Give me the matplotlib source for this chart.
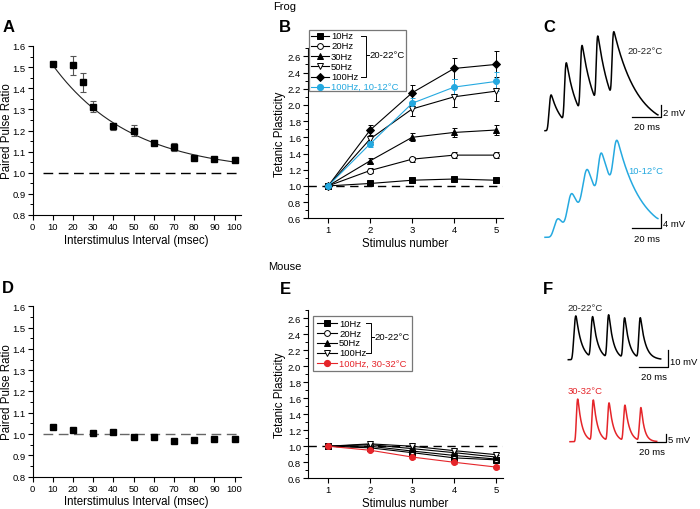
import numpy as np
import matplotlib
matplotlib.use("Agg")
from matplotlib import pyplot as plt
from matplotlib.lines import Line2D
from matplotlib.patches import Rectangle
from matplotlib.ticker import MultipleLocator

plt.rcParams['font.family'] = ['Liberation Sans', 'DejaVu Sans']

BLUE = '#25a9e0'
RED = '#e5252a'

# ---- panel A / D : paired pulse ratio ----
isi_frog = [10, 20, 25, 30, 40, 50, 60, 70, 80, 90, 100]
ppr_frog = [1.515, 1.508, 1.428, 1.313, 1.22, 1.20, 1.143, 1.123, 1.068, 1.066, 1.061]
ppr_frog_err = [0.01, 0.045, 0.044, 0.026, 0.017, 0.026, 0.01, 0.018, 0.01, 0.008, 0.012]
fit_y0, fit_amp, fit_tau = 1.0, 0.659, 39.0   # exponential fit

isi_mouse = [10, 20, 30, 40, 50, 60, 70, 80, 90, 100]
ppr_mouse = [1.031, 1.019, 1.006, 1.008, 0.987, 0.987, 0.966, 0.972, 0.975, 0.978]

# ---- panel B / E : tetanic plasticity ----
stim = [1, 2, 3, 4, 5]
frog_labels = ['10Hz', '20Hz', '30Hz', '50Hz', '100Hz']
frog_vals = [
    [1, 1.03, 1.07, 1.085, 1.07],
    [1, 1.19, 1.33, 1.38, 1.38],
    [1, 1.31, 1.60, 1.66, 1.69],
    [1, 1.58, 1.95, 2.10, 2.17],
    [1, 1.69, 2.15, 2.45, 2.50],
]
frog_errs = [
    [0, 0.01, 0.01, 0.01, 0.015],
    [0, 0.03, 0.03, 0.04, 0.04],
    [0, 0.03, 0.05, 0.06, 0.06],
    [0, 0.04, 0.09, 0.12, 0.12],
    [0, 0.06, 0.10, 0.13, 0.16],
]
frog_cold_label = '100Hz, 10-12°C'
frog_cold = [1, 1.52, 2.02, 2.22, 2.29]
frog_cold_err = [0, 0.04, 0.06, 0.10, 0.12]

mouse_labels = ['10Hz', '20Hz', '50Hz', '100Hz']
mouse_vals = [
    [1, 0.98, 0.92, 0.855, 0.83],
    [1, 1.00, 0.94, 0.885, 0.84],
    [1, 1.02, 0.97, 0.92, 0.865],
    [1, 1.03, 1.00, 0.945, 0.895],
]
mouse_errs = [[0, 0.015, 0.02, 0.025, 0.025]] * 4
mouse_warm_label = '100Hz, 30-32°C'
mouse_warm = [1, 0.95, 0.865, 0.80, 0.74]
mouse_warm_err = [0, 0.015, 0.02, 0.02, 0.02]

# ---- panel C / F : example traces (peaks and troughs in ms / mV) ----
c_warm = dict(onset=1.4, pk_t=[4.1, 14.5, 25.3, 36.1, 47.1], pk_v=[6.3, 12.0, 15.0, 16.7, 17.1],
              tr_t=[12.4, 23.4, 34.5, 45.3], tr_v=[1.95, 3.8, 5.45, 6.3], end_t=77.9, end_v=2.6)
c_cold = dict(onset=3.5, pk_t=[9.0, 18.4, 29.2, 38.6, 49.4], pk_v=[5.6, 12.9, 19.8, 24.9, 28.4],
              tr_t=[12.8, 23.0, 34.6, 44.9], tr_v=[3.8, 9.2, 13.4, 16.4], end_t=77.9, end_v=5.1)
f_room = dict(onset=2.3, pk_t=[5.2, 16.6, 27.5, 38.4, 49.1], pk_v=[26.5, 26.5, 28.0, 26.1, 26.1],
              tr_t=[14.3, 25.5, 36.4, 47.1], tr_v=[2.3, 1.9, 1.7, 1.7], end_t=63.1, end_v=0.4)
f_warm = dict(onset=3.5, pk_t=[5.4, 16.4, 27.5, 38.7, 50.0], pk_v=[30.2, 29.5, 27.3, 25.6, 24.1],
              tr_t=[14.5, 25.5, 36.6, 47.8], tr_v=[1.3, 1.3, 1.3, 1.3], end_t=61.1, end_v=0.2)

W, H = 700, 510
fig = plt.figure(figsize=(7, 5.1), dpi=100)

TICK = 6.8
LAB = 8.3


def px_axes(x0, y0, x1, y1):
    return fig.add_axes([x0 / W, 1 - y1 / H, (x1 - x0) / W, (y1 - y0) / H])


def ftext(x, y, s, **kw):
    fig.text(x / W, 1 - y / H, s, **kw)


def fline(xs, ys, **kw):
    fig.add_artist(Line2D([x / W for x in xs], [1 - y / H for y in ys],
                          transform=fig.transFigure, **kw))


def style(ax):
    for s in ['top', 'right']:
        ax.spines[s].set_visible(False)
    for s in ['left', 'bottom']:
        ax.spines[s].set_linewidth(0.8)
    ax.tick_params(which='major', length=3.5, width=0.8, labelsize=TICK, pad=1.5)
    ax.tick_params(which='minor', length=2, width=0.7)


# --- A and D
for (y0, y1, xs, ys, errs, dcol, lab) in [
        (47, 216, isi_frog, ppr_frog, ppr_frog_err, 'black', 'A'),
        (307.3, 477.7, isi_mouse, ppr_mouse, None, '#666666', 'D')]:
    ax = px_axes(32.5, y0, 240.6, y1)
    style(ax)
    ax.set_xlim(0, 103)
    ax.set_ylim(0.8, 1.6)
    ax.xaxis.set_major_locator(MultipleLocator(10))
    ax.yaxis.set_major_locator(MultipleLocator(0.1))
    ax.yaxis.set_minor_locator(MultipleLocator(0.05))
    ax.yaxis.set_major_formatter(plt.FormatStrFormatter('%.1f'))
    ax.axhline(1.0, xmin=0.05, xmax=1, color=dcol, lw=1.0, dashes=(7, 4), zorder=1)
    if errs is not None:
        xf = np.linspace(10, 100, 200)
        ax.plot(xf, fit_y0 + fit_amp * np.exp(-xf / fit_tau), color='#222222', lw=0.8, zorder=2)
        ax.errorbar(xs, ys, yerr=errs, fmt='s', color='black', ecolor='#555555',
                    elinewidth=0.8, capsize=2, capthick=0.8, markersize=4.8, zorder=3)
    else:
        ax.plot(xs, ys, 's', color='black', markersize=3.8, zorder=3)
    ax.set_ylabel('Paired Pulse Ratio', fontsize=LAB)
    ax.yaxis.set_label_coords((13 - 32.5) / 208.1, 0.5)
    ax.set_xlabel('Interstimulus Interval (msec)', fontsize=LAB, labelpad=2)
    ftext(8.3, y0 - 19, lab, fontsize=12, fontweight='bold', ha='center', va='center')

markers = {'10Hz': ('s', 'black'), '20Hz': ('o', 'white'), '30Hz': ('^', 'black'),
           '50Hz': ('v', 'white'), '100Hz': ('D', 'black')}
mouse_markers = {'10Hz': ('s', 'black'), '20Hz': ('o', 'white'), '50Hz': ('^', 'black'),
                 '100Hz': ('v', 'white')}


def tetanic_axes(y0, y1):
    ax = px_axes(308, y0, 502.5, y1)
    style(ax)
    ax.set_xlim(0.52, 5.15)
    ax.set_ylim(0.6, 2.7)
    ax.xaxis.set_major_locator(MultipleLocator(1))
    ax.yaxis.set_minor_locator(MultipleLocator(0.1))
    ax.set_yticks(np.arange(0.6, 2.61, 0.2))
    ax.yaxis.set_major_formatter(plt.FormatStrFormatter('%.1f'))
    ax.axhline(1.0, color='black', lw=1.0, dashes=(6, 4), zorder=1)
    ax.set_ylabel('Tetanic Plasticity', fontsize=LAB)
    ax.yaxis.set_label_coords((286 - 308) / 194.5, 0.5)
    ax.set_xlabel('Stimulus number', fontsize=LAB, labelpad=2)
    return ax


def draw_series(ax, vals, err, mk, fc, col, ms):
    ax.errorbar(stim, vals, yerr=err, color=col, ecolor=col, lw=0.8, elinewidth=0.7,
                capsize=1.8, capthick=0.7, marker=mk, markerfacecolor=fc,
                markeredgecolor=col, markeredgewidth=0.7, markersize=ms, zorder=3)


def legend(box, ys, x_line, x_text, labels, mk, special_label, special_col, brk_x):
    x0, y0, x1, y1 = box
    fig.add_artist(Rectangle((x0 / W, 1 - y1 / H), (x1 - x0) / W, (y1 - y0) / H,
                             transform=fig.transFigure, facecolor='white',
                             edgecolor='#777777', lw=0.9))
    for lab, y in zip(labels, ys):
        m, fc = mk[lab]
        fline(x_line, [y, y], color='black', lw=0.8)
        fline([(x_line[0] + x_line[1]) / 2], [y], marker=m, markersize=4.2 if m != 'D' else 3.6,
              markerfacecolor=fc, markeredgecolor='black', markeredgewidth=0.7, lw=0)
        ftext(x_text, y, lab, fontsize=TICK, va='center', ha='left')
    ys_ = ys[len(labels)]
    fline(x_line, [ys_, ys_], color=special_col, lw=0.8)
    fline([(x_line[0] + x_line[1]) / 2], [ys_], marker='o', markersize=4.2,
          markerfacecolor=special_col, markeredgecolor=special_col, lw=0)
    ftext(x_text, ys_, special_label, fontsize=TICK, va='center', ha='left', color=special_col)
    top, bot = ys[0], ys[len(labels) - 1]
    mid = (top + bot) / 2 - 1.5
    fline([brk_x - 5.5, brk_x, brk_x, brk_x - 5.5], [top, top, bot, bot], color='black', lw=0.7)
    fline([brk_x, brk_x + 2.5], [mid, mid], color='black', lw=0.7)
    ftext(brk_x + 3, mid, '20-22°C', fontsize=TICK, va='center', ha='left')


# --- B
axb = tetanic_axes(49.2, 219.3)
for lab, v, e in zip(frog_labels, frog_vals, frog_errs):
    m, fc = markers[lab]
    draw_series(axb, v, e, m, fc, 'black', 4.3 if m != 'D' else 3.8)
draw_series(axb, frog_cold, frog_cold_err, 'o', BLUE, BLUE, 4.3)
legend((309, 31, 406, 92), [36.7, 46.9, 57.1, 67.3, 77.5, 87.7], [311, 329], 331,
       frog_labels, markers, frog_cold_label, BLUE, 366)
ftext(279, 28, 'B', fontsize=12, fontweight='bold', ha='left', va='center')
ftext(273, 7, 'Frog', fontsize=8, ha='left', va='center')

# --- E
axe = tetanic_axes(311, 479.3)
for lab, v, e in zip(mouse_labels, mouse_vals, mouse_errs):
    m, fc = mouse_markers[lab]
    draw_series(axe, v, e, m, fc, 'black', 4.3)
draw_series(axe, mouse_warm, mouse_warm_err, 'o', RED, RED, 4.3)
legend((313.3, 317.3, 412.3, 372), [324.3, 334.1, 343.9, 353.7, 364], [317.3, 336.7], 339,
       mouse_labels, mouse_markers, mouse_warm_label, RED, 371.3)
ftext(279.5, 290, 'E', fontsize=12, fontweight='bold', ha='left', va='center')
ftext(268, 267, 'Mouse', fontsize=8, ha='left', va='center')


# --- traces
def build_trace(onset, pk_t, pk_v, tr_t, tr_v, end_t, end_v, smooth, n=60):
    ts, vs = [np.array([0.0, onset])], [np.array([0.0, 0.0])]
    st, sv = onset, 0.0
    for i in range(len(pk_t)):
        u = np.linspace(0, 1, n)
        ts.append(st + (pk_t[i] - st) * u)
        vs.append(sv + (pk_v[i] - sv) * (1 - np.cos(np.pi * u)) / 2)
        if i < len(tr_t):
            et, ev = tr_t[i], tr_v[i]
        else:
            et, ev = end_t, end_v
        tau = (et - pk_t[i]) / np.log(pk_v[i] / ev)
        dt = np.linspace(0, et - pk_t[i], n)
        ts.append(pk_t[i] + dt)
        vs.append(pk_v[i] * np.exp(-dt / tau))
        st, sv = et, ev
    t, v = np.concatenate(ts), np.concatenate(vs)
    # resample and smooth a little so peaks and troughs round off like the recording
    tu = np.arange(0, end_t, 0.05)
    vu = np.interp(tu, t, v)
    k = np.arange(-4 * smooth, 4 * smooth + 0.05, 0.05)
    g = np.exp(-0.5 * (k / smooth) ** 2)
    g /= g.sum()
    pad = len(k) // 2
    vp = np.concatenate([np.full(pad, vu[0]), vu, np.full(pad, vu[-1])])
    vs_ = np.convolve(vp, g, mode='valid')[:len(tu)]
    return tu, vs_


def trace_panel(tr, smooth, x0, ybase, pxms, pxmv, col, bar_t, bar_v, bar_mv, mv_text, lab, lab_xy):
    left, right, top, bottom = 535, 699, ybase - 125, ybase + 22
    ax = px_axes(left, top, right, bottom)
    ax.set_xlim((left - x0) / pxms, (right - x0) / pxms)
    ax.set_ylim((ybase - bottom) / pxmv, (ybase - top) / pxmv)
    ax.axis('off')
    t, v = build_trace(smooth=smooth, **tr)
    ax.plot(t, v, color=col, lw=1.1, solid_joinstyle='round')
    # scale bars: 20 ms and bar_mv
    ax.plot([bar_t - 20, bar_t, bar_t], [bar_v, bar_v, bar_v + bar_mv], color='black', lw=0.9)
    ax.text(bar_t + 1.3, bar_v + bar_mv * 0.35, mv_text, fontsize=TICK, va='center', ha='left')
    ax.text(bar_t - 10, bar_v - 5.2 / pxmv, '20 ms', fontsize=TICK, va='top', ha='center')
    ftext(lab_xy[0], lab_xy[1], lab, fontsize=TICK, va='center', ha='left',
          color=col if col != 'black' else '#222222')


trace_panel(c_warm, 0.45, 545, 131.7, 1.45, 6.0, 'black', 80, 2.3, 2, '2 mV', '20-22°C', (627, 51.7))
trace_panel(c_cold, 1.0, 545, 238.3, 1.45, 3.58, BLUE, 80, 2.5, 4, '4 mV', '10-12°C', (628, 171.7))
trace_panel(f_room, 0.4, 568.3, 360.7, 1.465, 1.76, 'black', 68.3, -4.3, 10, '10 mV', '20-22°C', (567, 309))
trace_panel(f_warm, 0.35, 570, 442.7, 1.42, 1.54, RED, 67.4, 0, 5, '5 mV', '30-32°C', (568, 391.7))
ftext(543, 28, 'C', fontsize=12, fontweight='bold', ha='left', va='center')
ftext(543, 290, 'F', fontsize=12, fontweight='bold', ha='left', va='center')

fig.savefig('out.png', dpi=100)
